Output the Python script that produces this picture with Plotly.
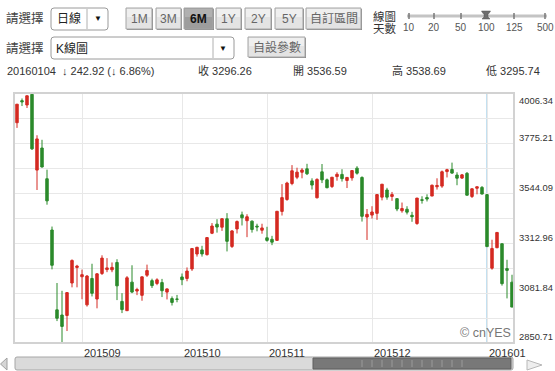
import plotly.graph_objects as go

# ---------------- data ----------------
dates = [
    "20150813", "20150814", "20150817", "20150818", "20150819", "20150820", "20150821",
    "20150824", "20150825", "20150826", "20150827", "20150828", "20150831",
    "20150901", "20150902", "20150907", "20150908", "20150909", "20150910", "20150911",
    "20150914", "20150915", "20150916", "20150917", "20150918", "20150921", "20150922",
    "20150923", "20150924", "20150925", "20150928", "20150929", "20150930",
    "20151008", "20151009", "20151012", "20151013", "20151014", "20151015", "20151016",
    "20151019", "20151020", "20151021", "20151022", "20151023", "20151026", "20151027",
    "20151028", "20151029", "20151030",
    "20151102", "20151103", "20151104", "20151105", "20151106", "20151109", "20151110",
    "20151111", "20151112", "20151113", "20151116", "20151117", "20151118", "20151119",
    "20151120", "20151123", "20151124", "20151125", "20151126", "20151127", "20151130",
    "20151201", "20151202", "20151203", "20151204", "20151207", "20151208", "20151209",
    "20151210", "20151211", "20151214", "20151215", "20151216", "20151217", "20151218",
    "20151221", "20151222", "20151223", "20151224", "20151225", "20151228", "20151229",
    "20151230", "20151231",
    "20160104", "20160105", "20160106", "20160107", "20160108", "20160111",
]
opens = [
    3869, 3971, 3951, 4000, 3650, 3752, 3610, 3373, 3004, 2980, 2978, 3128, 3200,
    3157, 3027, 3149, 3054, 3172, 3190, 3189, 3223, 3043, 3000, 3132, 3091, 3071, 3164,
    3139, 3126, 3130, 3086, 3056, 3054,
    3156, 3149, 3193, 3262, 3281, 3259, 3358, 3400, 3386, 3425, 3297, 3378, 3443, 3416,
    3414, 3391, 3372,
    3337, 3330, 3325, 3459, 3514, 3588, 3617, 3640, 3656, 3600, 3522, 3642, 3605, 3574,
    3620, 3630, 3602, 3614, 3659, 3616, 3433,
    3442, 3450, 3525, 3558, 3528, 3518, 3462, 3469, 3441, 3403, 3513, 3523, 3530, 3573,
    3576, 3643, 3653, 3627, 3613, 3635, 3528, 3566, 3570,
    3536.59, 3196.65, 3291.19, 3309.66, 3194.63, 3131.85,
]
highs = [
    3955, 3981, 3994, 4006.34, 3811, 3790, 3652, 3389, 3128, 3092, 3085, 3237, 3212,
    3190, 3165, 3217, 3174, 3256, 3243, 3223, 3238, 3081, 3160, 3210, 3106, 3158, 3213,
    3148, 3150, 3147, 3103, 3066, 3073,
    3172, 3200, 3288, 3295, 3300, 3338, 3405, 3423, 3426, 3451, 3373, 3417, 3458, 3446,
    3417, 3402, 3402,
    3388, 3346, 3460, 3585, 3596, 3673, 3661, 3659, 3679, 3612, 3612, 3678, 3611, 3617,
    3640, 3654, 3618, 3648, 3668, 3621, 3470,
    3483, 3538, 3585, 3568, 3549, 3518, 3500, 3483, 3457, 3521, 3529, 3538, 3583, 3612,
    3648, 3656, 3684.57, 3640, 3632, 3641, 3565, 3573, 3576,
    3538.69, 3328.14, 3362.97, 3309.66, 3235.45, 3166.22,
]
lows = [
    3845, 3946, 3937, 3743, 3558, 3662, 3490, 3191, 2952, 2850.71, 2906, 3108, 3108,
    3053, 3019, 3066, 3011, 3165, 3178, 3178, 3049, 2989, 2999, 3081, 3072, 3046, 3156,
    3105, 3118, 3063, 3052, 3024, 3039,
    3118, 3136, 3184, 3250, 3250, 3255, 3354, 3361, 3369, 3274, 3290, 3357, 3394, 3340,
    3361, 3367, 3356,
    3319, 3303, 3325, 3440, 3508, 3580, 3608, 3612, 3627, 3560, 3519, 3590, 3566, 3567,
    3601, 3597, 3567, 3601, 3629, 3412, 3327,
    3426, 3420, 3510, 3513, 3508, 3460, 3453, 3445, 3411, 3397, 3495, 3505, 3530, 3560,
    3568, 3616, 3633, 3580, 3609, 3533, 3521, 3538, 3538,
    3295.74, 3189.60, 3288.93, 3115.89, 3056.88, 3016.70,
]
closes = [
    3954.56, 3965.33, 3993.67, 3748.16, 3794.11, 3664.29, 3507.74, 3209.91, 2964.97,
    2927.29, 3083.59, 3232.35, 3205.99,
    3166.62, 3160.17, 3080.42, 3170.45, 3243.09, 3197.89, 3200.23, 3114.80, 3005.17,
    3152.26, 3086.06, 3097.92, 3156.54, 3185.62, 3115.89, 3142.69, 3092.35, 3100.76,
    3038.14, 3052.78,
    3143.36, 3183.15, 3287.66, 3293.23, 3262.44, 3338.07, 3391.35, 3386.70, 3425.33,
    3320.68, 3368.74, 3412.43, 3429.58, 3434.34, 3375.20, 3387.32, 3382.56,
    3325.08, 3316.70, 3459.64, 3522.82, 3590.03, 3646.88, 3640.49, 3650.25, 3632.90,
    3580.84, 3606.96, 3604.80, 3568.47, 3617.06, 3630.50, 3610.31, 3616.11, 3647.93,
    3635.55, 3436.30, 3445.40,
    3456.31, 3536.91, 3584.82, 3524.99, 3536.93, 3470.07, 3472.44, 3455.50, 3434.58,
    3520.67, 3510.35, 3516.19, 3580.00, 3578.96, 3642.47, 3651.77, 3636.09, 3612.49,
    3627.91, 3533.78, 3563.74, 3572.88, 3539.18,
    3296.26, 3287.71, 3361.84, 3125.00, 3186.41, 3016.70,
]
y_tick_vals = [2850.71, 3081.84, 3312.96, 3544.09, 3775.21, 4006.34]
y_tick_text = ["2850.71", "3081.84", "3312.96", "3544.09", "3775.21", "4006.34"]
month_labels = ["201509", "201510", "201511", "201512", "201601"]
selected_date = "20160104"

header_change = "20160104  \u2193 242.92 (\u2193 6.86%)"
header_close = "收 3296.26"
header_open = "開 3536.59"
header_high = "高 3538.69"
header_low = "低 3295.74"
range_buttons = ["1M", "3M", "6M", "1Y", "2Y", "5Y", "自訂區間"]
slider_labels = ["10", "20", "50", "100", "125", "500"]

# ---------------- figure ----------------
FONT = "Liberation Sans, Arial, Noto Sans CJK TC, sans-serif"
RED = "#d42a22"
GREEN = "#2b8a2b"

idx = list(range(len(dates)))
month_idx = [next(i for i, d in enumerate(dates) if d.startswith(m)) for m in month_labels]
sel_idx = dates.index(selected_date)

# horizontal grid: tick values and midpoints
grid_vals = []
for a, b in zip(y_tick_vals[:-1], y_tick_vals[1:]):
    grid_vals += [a, (a + b) / 2]
grid_vals.append(y_tick_vals[-1])

fig = go.Figure()
fig.add_trace(go.Candlestick(
    x=idx, open=opens, high=highs, low=lows, close=closes,
    increasing=dict(line=dict(color=RED, width=1), fillcolor=RED),
    decreasing=dict(line=dict(color=GREEN, width=1), fillcolor=GREEN),
    whiskerwidth=0, hoverinfo="skip", showlegend=False,
))

L, R, T, B = 14, 41, 93, 28
W, H = 555, 371
PW, PH = W - L - R, H - T - B


def X(px):
    return (px - L) / PW


def Y(py):
    return (H - B - py) / PH


shapes = []
annos = []


def rect(x0, y0, x1, y1, fill, lc, lw=1, layer="above"):
    shapes.append(dict(type="rect", xref="paper", yref="paper",
                       x0=X(x0), x1=X(x1), y0=Y(y1), y1=Y(y0),
                       fillcolor=fill, line=dict(color=lc, width=lw), layer=layer))


def rrect(x0, y0, x1, y1, r, fill, lc, lw=1):
    d = (f"M{X(x0+r)},{Y(y0)} L{X(x1-r)},{Y(y0)} Q{X(x1)},{Y(y0)} {X(x1)},{Y(y0+r)} "
         f"L{X(x1)},{Y(y1-r)} Q{X(x1)},{Y(y1)} {X(x1-r)},{Y(y1)} L{X(x0+r)},{Y(y1)} "
         f"Q{X(x0)},{Y(y1)} {X(x0)},{Y(y1-r)} L{X(x0)},{Y(y0+r)} Q{X(x0)},{Y(y0)} {X(x0+r)},{Y(y0)} Z")
    shapes.append(dict(type="path", xref="paper", yref="paper", path=d,
                       fillcolor=fill, line=dict(color=lc, width=lw), layer="above"))


def poly(pts, fill, lc, lw=1):
    d = "M" + " L".join(f"{X(a)},{Y(b)}" for a, b in pts) + " Z"
    shapes.append(dict(type="path", xref="paper", yref="paper", path=d,
                       fillcolor=fill, line=dict(color=lc, width=lw), layer="above"))


def line(x0, y0, x1, y1, color, width=1):
    shapes.append(dict(type="line", xref="paper", yref="paper",
                       x0=X(x0), x1=X(x1), y0=Y(y0), y1=Y(y1),
                       line=dict(color=color, width=width), layer="above"))


def text(px, py, s, size=11, color="#333", anchor="left", bold=False, family=FONT):
    if bold:
        s = f"<b>{s}</b>"
    annos.append(dict(xref="paper", yref="paper", x=X(px), y=Y(py), text=s,
                      showarrow=False, xanchor=anchor, yanchor="middle",
                      font=dict(size=size, color=color, family=family), borderpad=0))


# ---- toolbar row 1 ----
text(5, 19, "請選擇", size=12.5, color="#444")
rrect(51, 8, 108, 30, 3, "#ffffff", "#9a9a9a")
line(87, 9, 87, 29, "#b0b0b0")
text(56, 19, "日線", size=12, color="#222")
text(97.5, 19, "▼", size=8, color="#111", anchor="center")

btn_x = [(126, 152), (156, 181), (184, 213), (216, 241), (245, 271), (275, 303), (306, 361)]
for (bx0, bx1), lab in zip(btn_x, range_buttons):
    sel = lab == "6M"
    rect(bx0 + 1, 9, bx1 + 1, 30, "#8c8c8c", "#8c8c8c", 0)
    rect(bx0, 8, bx1, 29, "#9d9d9d" if sel else "#e3e3e3", "#a5a5a5", 1)
    rect(bx0 + 1, 9, bx1 - 1, 17, "#b0b0b0" if sel else "#efefef", "rgba(0,0,0,0)", 0)
    text((bx0 + bx1) / 2, 19, lab, size=12, color="#111" if sel else "#666",
         anchor="center", bold=sel)

# ---- slider ----
text(372, 17, "線圖", size=11.5, color="#333")
text(372, 28, "天數", size=11.5, color="#333")
slider_x = [409, 434, 461, 486, 514, 545]
line(407, 16, 547, 16, "#c4c4c4", 3)
for sx, sl in zip(slider_x, slider_labels):
    line(sx, 13, sx, 19, "#777", 1.5)
    text(sx, 27, sl, size=10, color="#555", anchor="center",
         family="Liberation Sans Narrow, Liberation Sans, Arial")
poly([(481.5, 11), (490.5, 11), (489, 13.5), (488, 13.5), (488, 17), (490, 19),
      (482, 19), (484, 17), (484, 13.5), (483, 13.5)], "#6e6e6e", "#555", 0.5)

# ---- toolbar row 2 ----
text(5, 48, "請選擇", size=12.5, color="#444")
rrect(51, 37, 234, 59, 3, "#ffffff", "#9a9a9a")
line(213, 38, 213, 58, "#b0b0b0")
text(55, 48, "K線圖", size=12, color="#222")
text(222.5, 48, "▼", size=8, color="#111", anchor="center")
rect(249, 38, 306, 58, "#8c8c8c", "#8c8c8c", 0)
rect(248, 37, 305, 57, "#e3e3e3", "#a5a5a5", 1)
rect(249, 38, 304, 46, "#efefef", "rgba(0,0,0,0)", 0)
text(276.5, 47.5, "自設參數", size=12, color="#666", anchor="center")

# ---- header row 3 ----
text(6, 71, header_change, size=11, color="#333")
text(197, 71, header_close, size=11, color="#333")
text(292, 71, header_open, size=11, color="#333")
text(391, 71, header_high, size=11, color="#333")
text(485, 71, header_low, size=11, color="#333")

# ---- plot frame & crosshair ----
shapes.append(dict(type="line", xref="x", yref="paper", x0=sel_idx, x1=sel_idx, y0=0, y1=1,
                   line=dict(color="#9ccbe6", width=1.2), layer="below"))
shapes.append(dict(type="rect", xref="paper", yref="paper", x0=0, x1=1, y0=0, y1=1,
                   line=dict(color="#d2d2d2", width=2), fillcolor="rgba(0,0,0,0)", layer="above"))

# ---- y labels ----
for v, t in zip(y_tick_vals, y_tick_text):
    ys = 6
    if v == y_tick_vals[-1]:
        ys = -7
    elif v == y_tick_vals[0]:
        ys = 7
    annos.append(dict(xref="paper", yref="y", x=1, y=v, text=t, showarrow=False,
                      xanchor="left", yanchor="middle", xshift=4, yshift=ys, borderpad=0,
                      font=dict(size=9.4, color="#333", family=FONT)))

# ---- x labels ----
for mi, ml in zip(month_idx, month_labels):
    annos.append(dict(xref="x", yref="paper", x=mi, y=0, text=ml, showarrow=False,
                      xanchor="left", yanchor="top", xshift=0, yshift=-2,
                      font=dict(size=11, color="#333", family=FONT)))

text(512, 333, "© cnYES", size=12.5, color="#777", anchor="right")

# ---- scrollbar ----
poly([(7, 358), (0.5, 364), (7, 370)], "#d6d6d6", "#a0a0a0", 1)
rrect(15, 357, 513, 370, 2, "#dadada", "#a6a6a6")
rect(313, 358, 511, 369, "#787878", "#5e5e5e", 1)
for k in range(11):
    tx = 362 + 10 * k
    line(tx, 360, tx, 367, "#9a9a9a", 1)
poly([(527, 360), (542, 365), (527, 370)], "#eeeeee", "#b8b8b8", 1)

fig.update_layout(
    width=W, height=H,
    margin=dict(l=L, r=R, t=T, b=B),
    paper_bgcolor="white", plot_bgcolor="white",
    shapes=shapes, annotations=annos,
    showlegend=False, hovermode=False,
    font=dict(family=FONT, size=11, color="#333"),
    xaxis=dict(range=[-0.6, len(dates) - 0.6], tickvals=month_idx, showticklabels=False,
               showgrid=True, gridcolor="#e8e8e8", gridwidth=1, zeroline=False,
               rangeslider=dict(visible=False), fixedrange=True, ticks=""),
    yaxis=dict(range=[y_tick_vals[0], y_tick_vals[-1]], tickvals=grid_vals,
               showticklabels=False, showgrid=True, gridcolor="#e8e8e8", gridwidth=1,
               zeroline=False, fixedrange=True, ticks=""),
)

fig.write_html("out.html", config={"displayModeBar": False})
